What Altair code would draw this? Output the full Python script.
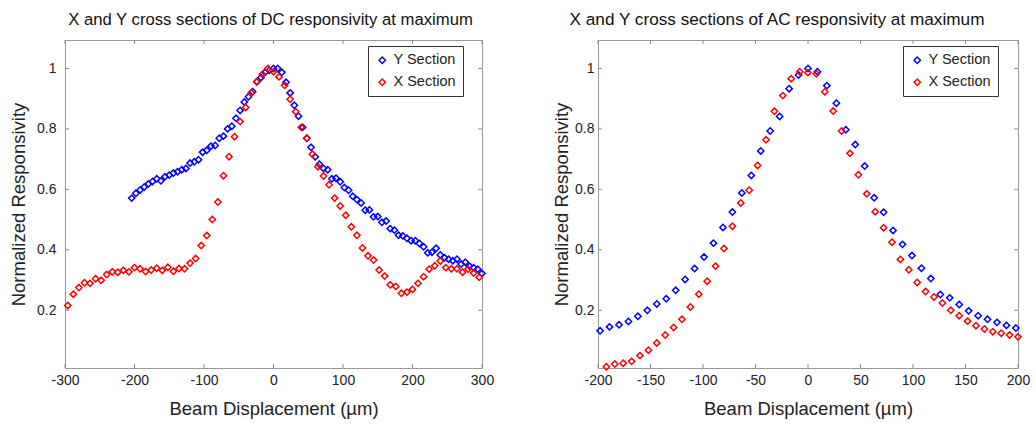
import altair as alt
import pandas as pd

FONT = "Liberation Sans"

# ---------------- DC panel ----------------
dc_y_x = [-204, -198, -192, -186, -180, -174, -168, -162, -156, -150,
          -144, -138, -132, -126, -120, -114, -108, -102, -96, -90,
          -84, -78, -72, -66, -60, -54, -48, -42, -36, -30,
          -24, -18, -12, -6, 0, 6, 12, 18, 24, 30,
          36, 42, 48, 54, 60, 66, 72, 78, 84, 90,
          96, 102, 108, 114, 120, 126, 132, 138, 144, 150,
          156, 162, 168, 174, 180, 186, 192, 198, 204, 210,
          216, 222, 228, 234, 240, 246, 252, 258, 264, 270,
          276, 282, 288, 294, 300]
dc_y_v = [0.571, 0.587, 0.598, 0.608, 0.618, 0.626, 0.635, 0.628, 0.642, 0.647,
          0.654, 0.658, 0.665, 0.669, 0.687, 0.691, 0.698, 0.723, 0.729, 0.743,
          0.745, 0.769, 0.776, 0.800, 0.809, 0.835, 0.861, 0.889, 0.906, 0.923,
          0.956, 0.970, 0.987, 0.994, 1.000, 1.000, 0.987, 0.954, 0.919, 0.878,
          0.842, 0.805, 0.769, 0.739, 0.708, 0.683, 0.669, 0.665, 0.635, 0.637,
          0.625, 0.606, 0.597, 0.577, 0.566, 0.555, 0.531, 0.532, 0.509, 0.510,
          0.491, 0.495, 0.470, 0.465, 0.448, 0.446, 0.438, 0.430, 0.430, 0.421,
          0.410, 0.390, 0.392, 0.405, 0.383, 0.374, 0.369, 0.364, 0.369, 0.353,
          0.359, 0.346, 0.341, 0.336, 0.322]

dc_x_x = [-296, -288, -280, -272, -264, -256, -248, -240, -232, -224,
          -216, -208, -200, -192, -184, -176, -168, -160, -152, -144,
          -136, -128, -120, -112, -104, -96, -88, -80, -72, -64,
          -56, -48, -40, -32, -24, -16, -8, 0, 8, 16,
          24, 32, 40, 48, 56, 64, 72, 80, 88, 96,
          104, 112, 120, 128, 136, 144, 152, 160, 168, 176,
          184, 192, 200, 208, 216, 224, 232, 240, 248, 256,
          264, 272, 280, 288, 296]
dc_x_v = [0.216, 0.253, 0.275, 0.291, 0.289, 0.304, 0.299, 0.318, 0.327, 0.326,
          0.332, 0.327, 0.341, 0.337, 0.328, 0.333, 0.339, 0.332, 0.342, 0.329,
          0.338, 0.337, 0.356, 0.371, 0.414, 0.447, 0.500, 0.558, 0.645, 0.708,
          0.774, 0.824, 0.871, 0.919, 0.956, 0.981, 1.000, 0.989, 0.972, 0.944,
          0.898, 0.857, 0.805, 0.769, 0.716, 0.675, 0.644, 0.615, 0.571, 0.545,
          0.514, 0.476, 0.448, 0.406, 0.380, 0.366, 0.333, 0.313, 0.284, 0.279,
          0.256, 0.260, 0.269, 0.289, 0.311, 0.336, 0.347, 0.363, 0.341, 0.337,
          0.337, 0.326, 0.336, 0.323, 0.309]

# ---------------- AC panel ----------------
ac_y_x = [-198, -189, -180, -171, -162, -153, -144, -135, -126, -117,
          -108, -99, -90, -81, -72, -63, -54, -45, -36, -27,
          -18, -9, 0, 9, 18, 27, 36, 45, 54, 63,
          72, 81, 90, 99, 108, 117, 126, 135, 144, 153,
          162, 171, 180, 189, 198]
ac_y_v = [0.132, 0.145, 0.152, 0.163, 0.180, 0.200, 0.221, 0.238, 0.266, 0.302,
          0.338, 0.376, 0.422, 0.474, 0.525, 0.588, 0.646, 0.727, 0.793, 0.841,
          0.933, 0.978, 1.000, 0.989, 0.943, 0.885, 0.797, 0.748, 0.677, 0.572,
          0.524, 0.464, 0.418, 0.381, 0.339, 0.305, 0.252, 0.241, 0.219, 0.198,
          0.182, 0.170, 0.160, 0.150, 0.141]

ac_x_x = [-192, -184, -176, -168, -160, -152, -144, -136, -128, -120,
          -112, -104, -96, -88, -80, -72, -64, -56, -48, -40,
          -32, -24, -16, -8, 0, 8, 16, 24, 32, 40,
          48, 56, 64, 72, 80, 88, 96, 104, 112, 120,
          128, 136, 144, 152, 160, 168, 176, 184, 192, 200]
ac_x_v = [0.013, 0.022, 0.025, 0.031, 0.050, 0.068, 0.092, 0.118, 0.143, 0.170,
          0.211, 0.253, 0.296, 0.346, 0.404, 0.478, 0.555, 0.597, 0.679, 0.764,
          0.858, 0.910, 0.966, 0.989, 0.986, 0.982, 0.923, 0.859, 0.793, 0.719,
          0.648, 0.585, 0.526, 0.473, 0.425, 0.368, 0.334, 0.292, 0.262, 0.244,
          0.224, 0.200, 0.182, 0.164, 0.149, 0.138, 0.129, 0.124, 0.118, 0.112]

series_names = ["Y Section", "X Section"]
series_colors = ["#0000ff", "#ff0000"]

dc_xticks = [-300, -200, -100, 0, 100, 200, 300]
ac_xticks = [-200, -150, -100, -50, 0, 50, 100, 150, 200]
yticks = [0.2, 0.4, 0.6, 0.8, 1.0]
ydomain = [0.009, 1.094]

titles = ["X and Y cross sections of DC responsivity at maximum",
          "X and Y cross sections of AC responsivity at maximum"]
x_title = "Beam Displacement (µm)"
y_title = "Normalized Responsivity"


def make_df(yx, yv, xx, xv):
    a = pd.DataFrame({"x": yx, "v": yv, "s": series_names[0]})
    b = pd.DataFrame({"x": xx, "v": xv, "s": series_names[1]})
    return pd.concat([a, b], ignore_index=True)


def panel(df, xdom, xticks, title, W, H, lx, ly, tdx, tsize, ylabpad, ytitpad):
    xs = alt.Scale(domain=xdom, nice=False, zero=False)
    ys = alt.Scale(domain=ydomain, nice=False, zero=False)
    xaxis = alt.Axis(values=xticks, title=x_title,
                     labelExpr="'' + datum.value", labelFlush=False,
                     labelPadding=5, titlePadding=12)
    yaxis = alt.Axis(values=yticks, title=y_title, format=".1~f",
                     labelPadding=ylabpad, titlePadding=ytitpad)
    x_enc = alt.X("x:Q", scale=xs, axis=xaxis)
    y_enc = alt.Y("v:Q", scale=ys, axis=yaxis)

    pts = alt.Chart(df).mark_point(
        shape="diamond", filled=False, size=40, strokeWidth=1.5, opacity=1
    ).encode(
        x=x_enc, y=y_enc,
        color=alt.Color("s:N",
                        scale=alt.Scale(domain=series_names, range=series_colors),
                        legend=alt.Legend(
                            title=None, orient="none", legendX=lx, legendY=ly,
                            symbolType="diamond", symbolSize=40,
                            symbolStrokeWidth=1.5, labelFontSize=14.5,
                            labelFont=FONT, labelColor="#222", labelOffset=4,
                            padding=7, rowPadding=7, strokeColor="#333",
                            fillColor="white")),
    )

    xt = pd.DataFrame({"x": xticks})
    yt = pd.DataFrame({"v": yticks})
    tick_style = dict(color="#888888", strokeWidth=1)
    top = alt.Chart(xt).mark_rule(**tick_style).encode(
        x=x_enc, y=alt.value(0), y2=alt.value(4))
    bot = alt.Chart(xt).mark_rule(**tick_style).encode(
        x=x_enc, y=alt.value(H), y2=alt.value(H - 4))
    lft = alt.Chart(yt).mark_rule(**tick_style).encode(
        y=y_enc, x=alt.value(0), x2=alt.value(4))
    rgt = alt.Chart(yt).mark_rule(**tick_style).encode(
        y=y_enc, x=alt.value(W), x2=alt.value(W - 4))

    return alt.layer(top, bot, lft, rgt, pts).properties(
        width=W, height=H,
        title=alt.TitleParams(title, dx=tdx, anchor="middle", fontSize=tsize))


left = panel(make_df(dc_y_x, dc_y_v, dc_x_x, dc_x_v), [-300, 300], dc_xticks,
             titles[0], 417, 328, 303, 6, -3, 16.7, 9, 8)
right = panel(make_df(ac_y_x, ac_y_v, ac_x_x, ac_x_v), [-200, 200], ac_xticks,
              titles[1], 420, 328, 305, 6, -31, 17.2, 4, 3)

chart = alt.hconcat(left, right, spacing=57).resolve_scale(
    color="independent", x="independent", y="independent"
).resolve_legend(color="independent").properties(
    padding={"left": 9, "top": 10, "right": 5, "bottom": 5},
    background="white",
).configure_view(
    stroke="#999999", strokeWidth=1
).configure_axis(
    domain=False, ticks=False, grid=False,
    labelFont=FONT, labelFontSize=14, labelColor="#222",
    titleFont=FONT, titleFontSize=18.5, titleFontWeight="normal",
    titleColor="#222",
).configure_title(
    font=FONT, fontSize=16.7, fontWeight="normal", color="#111", offset=11
)

chart.save("out.html", embed_options={"renderer": "svg", "actions": False})
